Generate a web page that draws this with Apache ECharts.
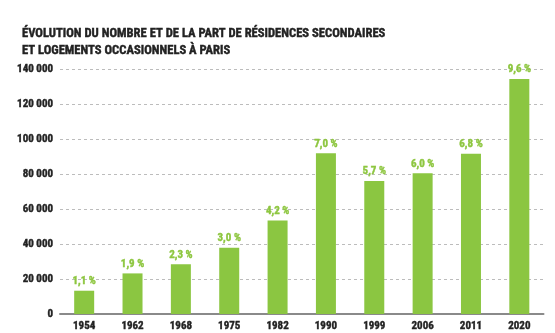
<!DOCTYPE html>
<html>
<head>
<meta charset="utf-8">
<script src="https://cdn.jsdelivr.net/npm/echarts@6/dist/echarts.min.js"></script>
<style>
  html, body { margin: 0; padding: 0; background: #fff; }
  #chart { width: 555px; height: 333px; }
</style>
</head>
<body>
<div id="chart"></div>
<script>
// Résidences secondaires et logements occasionnels à Paris
const years = ['1954', '1962', '1968', '1975', '1982', '1990', '1999', '2006', '2011', '2020'];
const counts = [13300, 23200, 28400, 37900, 53500, 91800, 76000, 80400, 91600, 134300];
const shares = ['1,1 %', '1,9 %', '2,3 %', '3,0 %', '4,2 %', '7,0 %', '5,7 %', '6,0 %', '6,8 %', '9,6 %'];

const FONT = "'Roboto Condensed', 'Liberation Sans Narrow', 'DejaVu Sans Condensed', sans-serif";
const INK = '#222222';

// heavy text: bold face plus a thin stroke in the same colour
const heavy = (color, size) => ({
  fontFamily: FONT,
  fontWeight: 'bold',
  fontSize: size,
  color: color,
  textBorderColor: color,
  textBorderWidth: 0.4
});

const chart = echarts.init(document.getElementById('chart'), null, { renderer: 'canvas' });

chart.setOption({
  animation: false,
  backgroundColor: '#ffffff',
  title: {
    text: 'ÉVOLUTION DU NOMBRE ET DE LA PART DE RÉSIDENCES SECONDAIRES\nET LOGEMENTS OCCASIONNELS À PARIS',
    left: 17,
    top: 20,
    textStyle: Object.assign(heavy(INK, 12.6), { lineHeight: 17 })
  },
  grid: { left: 60, right: 11.5, top: 69, bottom: 19 },
  xAxis: {
    type: 'category',
    data: years,
    axisTick: { show: false },
    axisLine: { lineStyle: { color: '#8a8a8a', width: 2 } },
    axisLabel: Object.assign(heavy(INK, 11), { margin: 7 })
  },
  yAxis: {
    type: 'value',
    min: 0,
    max: 140000,
    interval: 20000,
    axisLine: { show: false },
    axisTick: { show: false },
    splitLine: { lineStyle: { color: '#bcbcbc', type: [3, 3], width: 1 } },
    axisLabel: Object.assign(heavy(INK, 11), {
      margin: 7,
      formatter: v => v === 0 ? '0' : String(v).replace(/\B(?=(\d{3})+(?!\d))/g, ' ')
    })
  },
  series: [{
    type: 'bar',
    data: counts,
    barWidth: 20,
    itemStyle: { color: '#8bc641' },
    label: Object.assign(heavy('#8dc63f', 11), {
      show: true,
      position: 'top',
      distance: 4,
      formatter: p => shares[p.dataIndex]
    })
  }]
});
</script>
</body>
</html>
